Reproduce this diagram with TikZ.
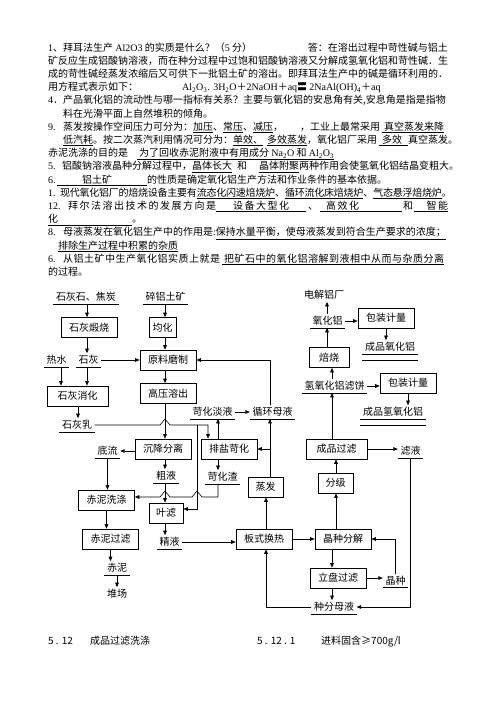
\documentclass[tikz,border=0pt]{standalone}
\usepackage{fontspec}
\setmainfont{Noto Sans CJK SC}
\newfontfamily\latfont{Liberation Serif}
\usetikzlibrary{arrows.meta,positioning,calc}
\newcommand\lat[1]{{\latfont #1}}
\newcommand\numlbl[2][15pt]{\makebox[#1][l]{\lat{#2}}}
\newcommand\ulbox[3][c]{\underline{\makebox[#2][#1]{#3}}}
\newcommand\spaced[1]{{\addfontfeature{LetterSpace=15}#1}}
\tikzset{
    % Text lines of the page
    txtline/.style={anchor=base west, inner sep=0pt},
    % Process boxes
    proc/.style={
        rectangle,
        draw,
        line width=0.6pt,
        minimum height=20pt,
        minimum width=36pt,
        inner xsep=8pt,
        inner ysep=0pt
    },
    % Streams (underlined)
    stream/.style={
        inner xsep=2.5pt,
        inner ysep=2pt,
        append after command={(\tikzlastnode.south west) edge[draw, line width=0.6pt] (\tikzlastnode.south east)}
    },
    product/.style={
        stream,
        append after command={([yshift=-6.5pt]\tikzlastnode.south west) edge[draw, line width=0.6pt] ([yshift=-6.5pt]\tikzlastnode.south east)}
    },
    tag/.style={inner sep=2pt},
    % Arrows
    arrow/.style={
        -{Triangle[length=4.5pt,width=3.6pt]},
        line width=0.6pt
    }
}

\begin{document}
\begin{tikzpicture}[
    x=1pt, y=-1pt,
    font=\fontsize{10}{12}\selectfont
]
    \useasboundingbox (0,0) rectangle (496,702);

    % Questions and answers
    \node[txtline] (l1) at (48,51) {\lat{1}、拜耳法生产 \lat{Al2O3} 的实质是什么？（\lat{5} 分）};
    \node[txtline, anchor=base east] (l1b) at (448,51) {答：在溶出过程中苛性碱与铝土};
    \node[txtline] (l2) at (48,64.2) {矿反应生成铝酸钠溶液，而在种分过程中过饱和铝酸钠溶液又分解成氢氧化铝和苛性碱．生};
    \node[txtline] (l3) at (48,77.4) {成的苛性碱经蒸发浓缩后又可供下一批铝土矿的溶出。即拜耳法生产中的碱是循环利用的．};
    \node[txtline] (l4) at (48,90.6) {用方程式表示如下：};
    \node[txtline] (l4b) at (182,90.6) {\lat{Al\textsubscript{2}O\textsubscript{3}. 3H\textsubscript{2}O}＋\lat{2NaOH}＋\lat{aq}〓 \lat{2NaAl(OH)\textsubscript{4}}＋\lat{aq}};
    \node[txtline] (l5) at (48,103.8) {\lat{4}．产品氧化铝的流动性与哪一指标有关系？主要与氧化铝的安息角有关,安息角是指是指物};
    \node[txtline] (l6) at (63,117) {料在光滑平面上自然堆积的倾角。};
    \node[txtline] (l7) at (48,130.2) {\numlbl{9.}蒸发按操作空间压力可分为：\underline{加压}、\underline{常压}、\underline{减压}，\hspace{17pt}，工业上最常采用\hspace{2pt}\underline{\hspace{2pt}真空蒸发来降}};
    \node[txtline] (l8) at (63,143.4) {\underline{低汽耗}。按二次蒸汽利用情况可分为：\underline{单效、}\hspace{4pt}\underline{多效蒸发}，氧化铝厂采用\hspace{2pt}\underline{\hspace{3pt}多效\hspace{6pt}}真空蒸发。};
    \node[txtline] (l9) at (48,156.6) {赤泥洗涤的目的是\hspace{9pt}\underline{\hspace{2pt}为了回收赤泥附液中有用成分 \lat{Na\textsubscript{2}O} 和 \lat{Al\textsubscript{2}O\textsubscript{3}}}};
    \node[txtline] (l10) at (48,169.8) {\numlbl[14pt]{5.}铝酸钠溶液晶种分解过程中，\underline{晶体长大}\hspace{5pt}和\hspace{12pt}\underline{晶体附聚}两种作用会使氢氧化铝结晶变粗大。};
    \node[txtline] (l11) at (48,183) {\numlbl[9pt]{6.}\ulbox[l]{90pt}{\hspace{25pt}铝土矿}的性质是确定氧化铝生产方法和作业条件的基本依据。};
    \node[txtline] (l12) at (48,196.2) {\numlbl[12pt]{1.}{\addfontfeature{LetterSpace=-2.5}现代氧化铝厂的焙烧设备主要有\underline{流态化闪速焙烧炉}、\underline{循环流化床焙烧炉}、\underline{气态悬浮焙烧炉}。}};
    \node[txtline] (l13) at (48,209.4) {\numlbl[20pt]{12.}\spaced{拜尔法溶出技术的发展方向是}\ulbox{90pt}{\spaced{设备大型化}}\hspace{2pt}、\hspace{2pt}\ulbox[l]{82pt}{\hspace{6pt}\spaced{高效化}}\hspace{1pt}和\hspace{1pt}\ulbox[r]{34pt}{\spaced{智能}}};
    \node[txtline] (l14) at (48,222.6) {\ulbox[l]{84pt}{化}。};
    \node[txtline] (l15) at (48,235.8) {\numlbl{8.}母液蒸发在氧化铝生产中的作用是\lat{:}\underline{保持水量平衡，使母液蒸发到符合生产要求的浓度；}};
    \node[txtline] (l16) at (58,249) {\underline{排除生产过程中积累的杂质}};
    \node[txtline] (l17) at (48,262.2) {\numlbl{6.}{\addfontfeature{LetterSpace=5}从铝土矿中生产氧化铝实质上就是\hspace{2pt}\underline{\hspace{2pt}把矿石中的氧化铝溶解到液相中从而与杂质分离}}};
    \node[txtline] (l18) at (48,275.4) {的过程。};

    % Column and level helpers
    \coordinate (xHW) at (61,0);
    \coordinate (xLM) at (78,0);
    \coordinate (xL) at (87,0);
    \coordinate (xM) at (165,0);
    \coordinate (xLeaf) at (197,0);
    \coordinate (xCa) at (208,0);
    \coordinate (xCb) at (218,0);
    \coordinate (xP) at (266,0);
    \coordinate (xE) at (270,0);
    \coordinate (xA) at (327,0);
    \coordinate (xB) at (332,0);
    \coordinate (xF) at (336,0);
    \coordinate (yRes) at (0,497);

    % Red side: lime and bauxite
    \node[stream] (limecoke) at (86,297) {石灰石、焦炭};
    \node[stream] (bauxite) at (165.5,297) {碎铝土矿};
    \node[proc, minimum width=56pt] (calcine) at (89,327.5) {石灰煅烧};
    \node[proc, minimum width=27pt, inner xsep=3pt] (homog) at (162.5,327.5) {均化};
    \node[stream] (hotwater) at (56.5,360) {热水};
    \node[stream] (lime) at (88.5,360) {石灰};
    \node[proc] (grind) at (168,360) {原料磨制};
    \node[proc, minimum width=61pt] (slake) at (77.5,396) {石灰消化};
    \node[proc] (digest) at (168,393.5) {高压溶出};
    \node[stream] (limemilk) at (77,425) {石灰乳};
    \node[proc] (settle) at (163,449) {沉降分离};
    \node[proc] (caust) at (229,449) {排盐苛化};
    \node[stream] (underflow) at (107.5,451) {底流};
    \node[stream] (causlq) at (212.5,412) {苛化淡液};
    \node[stream] (mother) at (272.5,412) {循环母液};
    \node[stream] (crude) at (166,476) {粗液};
    \node[stream] (causres) at (222.5,477) {苛化渣};
    \node[proc] (redwash) at (106.5,500) {赤泥洗涤};
    \node[proc, minimum width=34pt, inner xsep=4pt] (leaf) at (166,513) {叶滤};
    \node[proc, minimum width=35pt, inner xsep=4pt] (evap) at (265.5,487) {蒸发};
    \node[proc] (redfilt) at (110.5,539) {赤泥过滤};
    \node[stream] (pure) at (169.5,542) {精液};
    \node[stream] (redmud) at (117,568) {赤泥};
    \node[tag] (yard) at (117,594) {堆场};

    % Decomposition loop
    \node[proc] (plate) at (264,539) {板式换热};
    \node[proc] (decomp) at (343,539) {晶种分解};
    \node[proc] (disc) at (338,578) {立盘过滤};
    \node[stream] (seed) at (395.5,581) {晶种};
    \node[stream] (spent) at (334,607) {种分母液};

    % Product side
    \node[tag] (elec) at (324,295) {电解铝厂};
    \node[stream] (alumina) at (327.5,321) {氧化铝};
    \node[proc] (pack1) at (386,318) {包装计量};
    \node[product] (prodal) at (390,347) {成品氧化铝};
    \node[proc, minimum width=40pt] (roast) at (329,357.5) {焙烧};
    \node[stream] (cake) at (334.5,386) {氢氧化铝滤饼};
    \node[proc] (pack2) at (408,383) {包装计量};
    \node[product] (prodhy) at (393,412) {成品氢氧化铝};
    \node[proc, minimum width=61pt] (prodfilt) at (336.5,449) {成品过滤};
    \node[stream] (filtrate) at (410.5,451) {滤液};
    \node[proc, minimum width=35pt, inner xsep=4pt] (classify) at (335.5,483) {分级};

    % Arrows
    \draw[arrow] (xL |- limecoke.south) -- (xL |- calcine.north);
    \draw[arrow] (xL |- calcine.south) -- (xL |- lime.north);
    \draw[arrow] (xM |- bauxite.south) -- (xM |- homog.north);
    \draw[arrow] (xM |- homog.south) -- (xM |- grind.north);
    \draw[arrow] (lime.east) -- (lime.east -| grind.west);
    \draw[arrow] (xHW |- hotwater.south) -- (xHW |- slake.north);
    \draw[arrow] (xL |- lime.south) -- (xL |- slake.north);
    \draw[arrow] (xM |- grind.south) -- (xM |- digest.north);
    \draw[arrow] (xLM |- slake.south) -- (xLM |- limemilk.north);
    \coordinate (hop1) at (xM |- limemilk.east);
    \draw[arrow] (limemilk.east) -- ([xshift=-5pt]hop1) -- ([yshift=6pt]hop1) -- ([xshift=5pt]hop1) -| (xCa |- caust.north);
    \draw[arrow] (xLeaf |- limemilk.east) |- ([yshift=4pt]leaf.east);
    \draw[arrow] (xM |- digest.south) -- (xM |- settle.north);
    \draw[arrow] (settle.west |- underflow.east) -- (underflow.east);
    \draw[arrow] (underflow.south) -- (underflow.south |- redwash.north);
    \draw[arrow] (xM |- settle.south) -- (xM |- crude.north);
    \draw[arrow] (xM |- crude.south) -- (xM |- leaf.north);
    \draw[arrow] (xCb |- caust.north) -- (xCb |- causlq.south);
    \draw[arrow] (causlq.east) -- (causlq.east -| mother.west);
    \draw[arrow] (xCb |- caust.south) -- (xCb |- causres.north);
    \coordinate (hop2) at (xLeaf |- yRes);
    \coordinate (hop3) at (xM |- yRes);
    \draw[arrow] (xCb |- causres.south) -- (xCb |- yRes) -- ([xshift=5pt]hop2) -- ([yshift=6pt]hop2) -- ([xshift=-5pt]hop2)
        -- ([xshift=5pt]hop3) -- ([yshift=6pt]hop3) -- ([xshift=-5pt]hop3) -- (redwash.east |- yRes);
    \draw[arrow] (xE |- evap.north) -- (xE |- mother.south);
    \draw[arrow] (xE |- caust.east) -- (caust.east);
    \draw[arrow] (xE |- mother.north) |- (grind.east);
    \draw[arrow] (xA |- roast.north) -- (xA |- alumina.south);
    \draw[arrow] (xA |- alumina.north) -- (xA |- elec.south);
    \draw[arrow] (alumina.east) -- (alumina.east -| pack1.west);
    \draw[arrow] (pack1.south) -- (pack1.south |- prodal.north);
    \draw[arrow] (xB |- cake.north) -- (xB |- roast.south);
    \draw[arrow] (cake.east) -- (cake.east -| pack2.west);
    \draw[arrow] (pack2.south) -- (pack2.south |- prodhy.north);
    \draw[arrow] (xB |- prodfilt.north) -- (xB |- cake.south);
    \draw[arrow] (prodfilt.east) -- (prodfilt.east -| filtrate.west);
    \draw[arrow] (xF |- classify.north) -- (xF |- prodfilt.south);
    \draw[arrow] (xF |- decomp.north) -- (xF |- classify.south);
    \draw[arrow] (xP |- plate.north) -- (xP |- evap.south);
    \draw[arrow] (pure.east) -- (pure.east -| plate.west);
    \draw[arrow] (plate.east) -- (decomp.west);
    \draw[arrow] (xB |- decomp.south) -- (xB |- disc.north);
    \draw[arrow] (disc.east) -- (disc.east -| seed.west);
    \draw[arrow] (seed.north) |- (decomp.east);
    \draw[arrow] (xB |- disc.south) -- (xB |- spent.north);
    \draw[arrow] (filtrate.south) |- (spent.east);
    \draw[arrow] (spent.west) -| (xP |- plate.south);
    \draw[arrow] (redwash.south) -- (redwash.south |- redfilt.north);
    \draw[arrow] (xM |- leaf.south) -- (xM |- pure.north);
    \draw[arrow] (redfilt.south) -- (redfilt.south |- redmud.north);
    \draw[arrow] (redmud.south) -- (yard.north);

    % Footer
    \node[txtline] (f1) at (48,644) {5 . 12};
    \node[txtline] (f2) at (90,644) {成品过滤洗涤};
    \node[txtline] (f3) at (257,644) {5 . 12 . 1};
    \node[txtline] (f4) at (321,644) {进料固含≥700g/l};
\end{tikzpicture}
\end{document}
